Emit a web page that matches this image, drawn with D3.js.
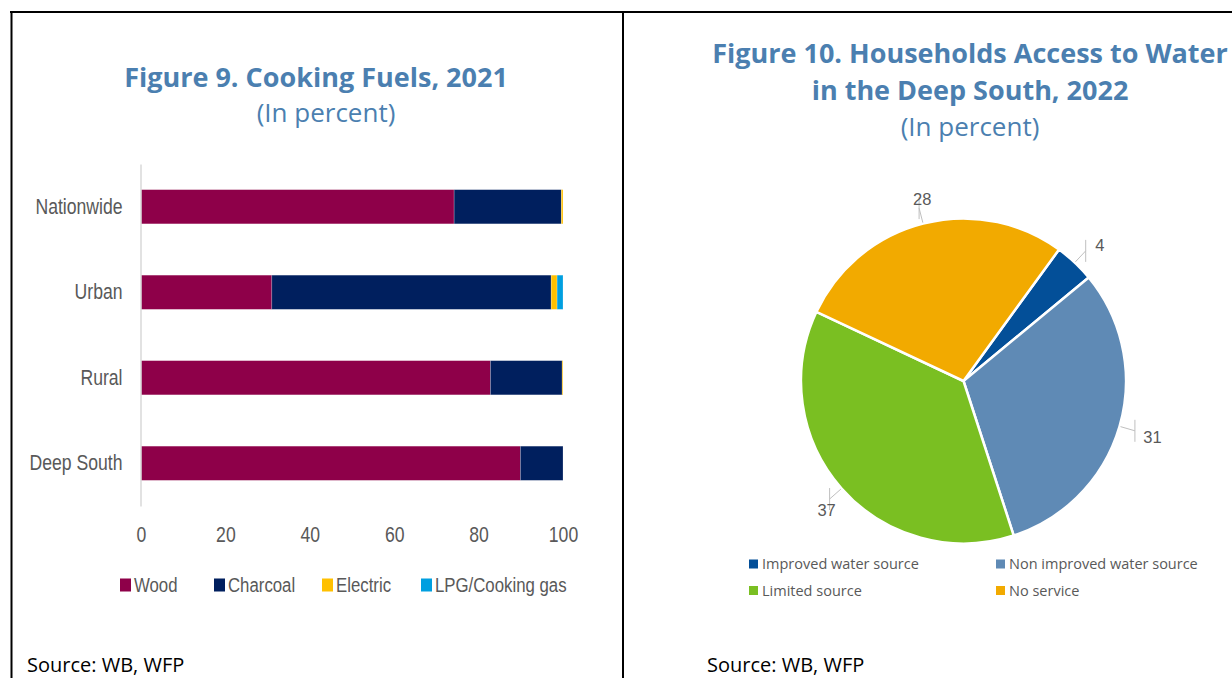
<!DOCTYPE html>
<html>
<head>
<meta charset="utf-8">
<script src="https://cdn.jsdelivr.net/npm/d3@7"></script>
<style>
  body { margin: 0; background: #fff; }
  svg { display: block; }
</style>
</head>
<body>
<div id="chart"></div>
<script>
// ---- data: figure 9 (cooking fuels, % of households)
const categories = ["Nationwide", "Urban", "Rural", "Deep South"]
const fuels = ["Wood", "Charcoal", "Electric", "LPG/Cooking gas"]
const wood = [74.2, 31.0, 82.8, 89.9]
const charcoal = [25.4, 66.2, 17.0, 10.1]
const electric = [0.4, 1.4, 0.2, 0]
const lpg = [0, 1.4, 0, 0]
const xTicks = [0, 20, 40, 60, 80, 100]

// ---- data: figure 10 (water access, Deep South)
const waterCats = ["Improved water source", "Non improved water source", "Limited source", "No service"]
const waterValues = [4, 31, 37, 28]

const fuelColors = ["#8e0049", "#001f5e", "#ffc000", "#009fe0"]
const waterColors = ["#034f98", "#5f8ab5", "#7abf22", "#f2aa00"]
const titleColor = "#4b7fb0"
const grey = "#595959"
// no narrow font installed: Liberation Sans squeezed horizontally instead
const narrow = "'Liberation Sans', Arial, sans-serif"
const squeeze = 0.8
const ui = "'Open Sans', 'Noto Sans', sans-serif"

const width = 1232
const height = 678

const svg = d3.select("#chart")
    .append("svg")
    .attr("width", width)
    .attr("height", height)
    .attr("viewBox", [0, 0, width, height])

svg.append("rect")
    .attr("width", width)
    .attr("height", height)
    .attr("fill", "#fff")

// frame lines
const frame = svg.append("g").attr("stroke", "#000").attr("stroke-width", 2)
frame.append("line").attr("x1", 10).attr("x2", width).attr("y1", 12).attr("y2", 12)
frame.append("line").attr("x1", 11.5).attr("x2", 11.5).attr("y1", 11).attr("y2", height)
frame.append("line").attr("x1", 623).attr("x2", 623).attr("y1", 11).attr("y2", height)

// ================= Figure 9 =================
const left = svg.append("g")

left.append("text")
    .attr("x", 316).attr("y", 87)
    .attr("text-anchor", "middle")
    .attr("font-family", ui).attr("font-weight", "bold").attr("font-size", 27)
    .attr("fill", titleColor)
    .text("Figure 9. Cooking Fuels, 2021")

left.append("text")
    .attr("x", 326).attr("y", 122)
    .attr("text-anchor", "middle")
    .attr("font-family", ui).attr("font-size", 26)
    .attr("fill", titleColor)
    .text("(In percent)")

const table = categories.map((c, i) => ({
    category: c,
    "Wood": wood[i],
    "Charcoal": charcoal[i],
    "Electric": electric[i],
    "LPG/Cooking gas": lpg[i]
}))
const series = d3.stack().keys(fuels)(table)

const x = d3.scaleLinear()
    .domain([0, 100])
    .range([141, 563])

const y = d3.scaleBand()
    .domain(categories)
    .range([164, 506])
    .paddingInner(0.6)
    .paddingOuter(0.3)

left.append("g")
    .selectAll("g")
    .data(series)
    .join("g")
    .attr("fill", (d, i) => fuelColors[i])
    .selectAll("rect")
    .data(d => d)
    .join("rect")
    .attr("x", d => x(d[0]))
    .attr("y", d => y(d.data.category))
    .attr("width", d => x(d[1]) - x(d[0]))
    .attr("height", y.bandwidth())
    .attr("stroke", "#fff")
    .attr("stroke-opacity", d => (d[1] - d[0]) > 0 ? 0.3 : 0)
    .attr("stroke-width", 0.7)

left.append("g")
    .attr("transform", "translate(140.5,0)")
    .call(d3.axisLeft(y).tickSize(0).tickSizeOuter(0))
    .call(g => g.select(".domain").attr("stroke", "#d9d9d9").attr("stroke-width", 1.5))
    .call(g => g.selectAll("text")
        .attr("x", 0)
        .attr("transform", `translate(-18,0) scale(${squeeze},1)`)
        .attr("fill", grey)
        .attr("font-family", narrow)
        .attr("font-size", 22))

left.append("g")
    .attr("transform", "translate(0,521)")
    .call(d3.axisBottom(x).tickValues(xTicks).tickSize(0).tickPadding(5))
    .call(g => g.select(".domain").remove())
    .call(g => g.selectAll("text")
        .attr("transform", `scale(${squeeze},1)`)
        .attr("fill", grey)
        .attr("font-family", narrow)
        .attr("font-size", 22))

const legendX = [120, 214, 322, 421]
const fuelLegend = left.append("g")
    .selectAll("g")
    .data(fuels)
    .join("g")
    .attr("transform", (d, i) => `translate(${legendX[i]},585)`)
fuelLegend.append("rect")
    .attr("x", 0).attr("y", -6.5)
    .attr("width", 11).attr("height", 13)
    .attr("fill", (d, i) => fuelColors[i])
fuelLegend.append("text")
    .attr("transform", `translate(14,0) scale(${squeeze},1)`)
    .attr("dy", "0.35em")
    .attr("fill", grey)
    .attr("font-family", narrow)
    .attr("font-size", 21)
    .text(d => d)

left.append("text")
    .attr("x", 27).attr("y", 672)
    .attr("font-family", ui).attr("font-size", 20)
    .attr("fill", "#000")
    .text("Source: WB, WFP")

// ================= Figure 10 =================
const right = svg.append("g")

const titleLines = ["Figure 10. Households Access to Water", "in the Deep South, 2022"]
right.selectAll("text.title")
    .data(titleLines)
    .join("text")
    .attr("class", "title")
    .attr("x", 970)
    .attr("y", (d, i) => 63 + i * 37)
    .attr("text-anchor", "middle")
    .attr("font-family", ui).attr("font-weight", "bold").attr("font-size", 27)
    .attr("fill", titleColor)
    .text(d => d)

right.append("text")
    .attr("x", 970).attr("y", 136)
    .attr("text-anchor", "middle")
    .attr("font-family", ui).attr("font-size", 26)
    .attr("fill", titleColor)
    .text("(In percent)")

const cx = 963.5
const cy = 381
const radius = 162.5

const pie = d3.pie()
    .sort(null)
    .startAngle(Math.PI / 5)
    .endAngle(Math.PI / 5 + 2 * Math.PI)
    .value(d => d)
const arcs = pie(waterValues)
const arc = d3.arc().innerRadius(0).outerRadius(radius)

const pieG = right.append("g").attr("transform", `translate(${cx},${cy})`)

pieG.selectAll("path")
    .data(arcs)
    .join("path")
    .attr("d", arc)
    .attr("fill", (d, i) => waterColors[i])
    .attr("stroke", "#fff")
    .attr("stroke-width", 2.5)
    .attr("stroke-linejoin", "round")

const mid = d => (d.startAngle + d.endAngle) / 2
const polar = (a, r) => [r * Math.sin(a), -r * Math.cos(a)]

// leader lines
const leaders = pieG.append("g")
    .attr("stroke", "#bfbfbf")
    .attr("stroke-width", 1)
    .attr("fill", "none")
leaders.selectAll("path")
    .data(arcs)
    .join("path")
    .attr("d", d => {
        const a = polar(mid(d), radius + 1)
        const b = polar(mid(d), radius + 16)
        return `M${a[0]},${a[1]}L${b[0]},${b[1]}M${b[0]},${b[1] - 11}L${b[0]},${b[1] + 11}`
    })

pieG.selectAll("text")
    .data(arcs)
    .join("text")
    .attr("x", d => polar(mid(d), radius + 28)[0] + 6)
    .attr("y", d => polar(mid(d), radius + 28)[1] + 3)
    .attr("dy", "0.35em")
    .attr("text-anchor", "middle")
    .attr("font-family", "'Liberation Sans', Arial, sans-serif")
    .attr("font-size", 16.5)
    .attr("fill", grey)
    .text(d => d.data)

const waterLegend = right.append("g")
    .selectAll("g")
    .data(waterCats)
    .join("g")
    .attr("transform", (d, i) => `translate(${i % 2 ? 996 : 749},${564 + Math.floor(i / 2) * 26.5})`)
waterLegend.append("rect")
    .attr("x", 0).attr("y", -4.5)
    .attr("width", 9).attr("height", 9)
    .attr("fill", (d, i) => waterColors[i])
waterLegend.append("text")
    .attr("x", 13).attr("y", 0)
    .attr("dy", "0.35em")
    .attr("fill", grey)
    .attr("font-family", ui)
    .attr("font-size", 14.5)
    .text(d => d)

right.append("text")
    .attr("x", 707).attr("y", 672)
    .attr("font-family", ui).attr("font-size", 20)
    .attr("fill", "#000")
    .text("Source: WB, WFP")
</script>
</body>
</html>
